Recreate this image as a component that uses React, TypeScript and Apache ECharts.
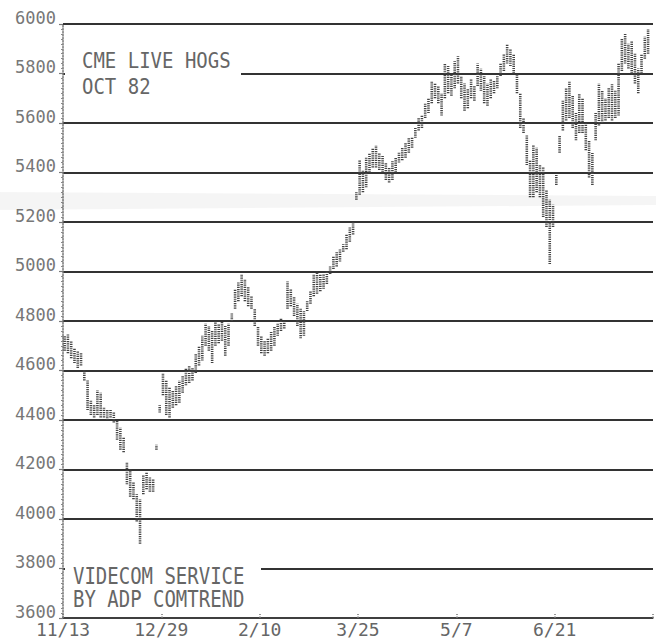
import React, { useEffect, useRef } from "react";
import * as echarts from "echarts";

const dateLabels = ["11/13", "12/29", "2/10", "3/25", "5/7", "6/21", ""];
const yTicks = [3600, 3800, 4000, 4200, 4400, 4600, 4800, 5000, 5200, 5400, 5600, 5800, 6000];
const titleLines = ["CME LIVE HOGS", "OCT 82"];
const footerLines = ["VIDECOM SERVICE", "BY ADP COMTREND"];

const highs = [
  4740, 4745, 4720, 4690, 4680, 4670, 4600, 4560, 4480, 4460,
  4520, 4510, 4450, 4440, 4440, 4430, 4400, 4370, 4330, 4230,
  4200, 4150, 4100, 4080, 4180, 4190, 4170, 4160, 4300, 4460,
  4590, 4560, 4530, 4520, 4540, 4560, 4580, 4610, 4620, 4610,
  4670, 4700, 4740, 4790, 4780, 4760, 4800, 4790, 4800, 4780,
  4790, 4830, 4930, 4960, 4990, 4970, 4940, 4900, 4850, 4780,
  4740, 4720, 4730, 4760, 4780, 4790, 4810, 4800, 4960, 4930,
  4900, 4870, 4850, 4840, 4880, 4920, 4990, 5000, 4990, 4990,
  5000, 5020, 5060, 5080, 5090, 5110, 5150, 5180, 5200, 5320,
  5450, 5410, 5460, 5480, 5500, 5510, 5480, 5470, 5440, 5420,
  5450, 5460, 5480, 5500, 5520, 5540, 5540, 5580, 5620, 5630,
  5680, 5700, 5770, 5760, 5750, 5720, 5840, 5830, 5800, 5850,
  5870, 5790, 5760, 5740, 5780, 5750, 5840, 5820, 5790, 5760,
  5780, 5770, 5790, 5840, 5880, 5920, 5900, 5880, 5800, 5720,
  5620, 5550, 5450, 5510, 5500, 5430, 5420, 5330, 5290, 5270,
  5390, 5550, 5690, 5740, 5770, 5710, 5640, 5720, 5700, 5600,
  5530, 5480, 5640, 5760, 5730, 5700, 5740, 5760, 5730, 5840,
  5940, 5960, 5920, 5930, 5880, 5820, 5880, 5950, 5980,
];
const lows = [
  4680, 4670, 4650, 4630, 4610, 4620, 4560, 4440, 4420, 4410,
  4420, 4410, 4410, 4400, 4410, 4390, 4320, 4280, 4270, 4140,
  4090, 4080, 3990, 3900, 4100, 4120, 4110, 4110, 4280, 4430,
  4500, 4420, 4410, 4450, 4460, 4470, 4510, 4540, 4550, 4560,
  4590, 4620, 4640, 4700, 4680, 4630, 4700, 4710, 4720, 4660,
  4700, 4800, 4850, 4880, 4900, 4880, 4860, 4850, 4780, 4700,
  4670, 4660, 4670, 4680, 4700, 4740, 4760, 4770, 4850, 4860,
  4820, 4780, 4730, 4740, 4840, 4870, 4900, 4910, 4920, 4930,
  4950, 4990, 5010, 5020, 5040, 5080, 5090, 5120, 5150, 5290,
  5310, 5320, 5340, 5400, 5420, 5420, 5410, 5400, 5370, 5360,
  5370, 5400, 5440, 5450, 5460, 5480, 5500, 5540, 5570, 5580,
  5620, 5640, 5680, 5700, 5680, 5630, 5700, 5720, 5710, 5740,
  5760, 5700, 5650, 5660, 5700, 5690, 5750, 5730, 5680, 5670,
  5700, 5720, 5740, 5790, 5810, 5840, 5830, 5800, 5720, 5580,
  5560, 5430, 5300, 5300, 5320, 5300, 5220, 5180, 5030, 5180,
  5350, 5480, 5570, 5610, 5620, 5580, 5530, 5560, 5560, 5490,
  5380, 5350, 5530, 5590, 5600, 5610, 5620, 5610, 5620, 5630,
  5810, 5840, 5820, 5800, 5760, 5720, 5800, 5860, 5880,
];

const MONO = "'DejaVu Sans Mono', 'Liberation Mono', monospace";

export default function App() {
  const ref = useRef<HTMLDivElement>(null);
  useEffect(() => {
    if (!ref.current) return;
    const chart = echarts.init(ref.current, undefined, { renderer: "svg" });
    const data = highs.map((h, i) => [i + 0.5, lows[i], h]);
    const option = {
      animation: false,
      backgroundColor: "#ffffff",
      grid: { left: 63, right: 0, top: 24, bottom: 23, containLabel: false },
      xAxis: {
        type: "value",
        min: 0,
        max: 180,
        interval: 30,
        axisLine: { show: true, lineStyle: { color: "#444", width: 1.5 } },
        axisTick: { show: true, inside: true, length: 4, lineStyle: { color: "#777", type: "dotted", width: 1.5 } },
        splitLine: { show: false },
        axisLabel: {
          margin: 3,
          fontFamily: MONO,
          fontSize: 18,
          lineHeight: 16,
          color: "#666",
          formatter: (v: number) => dateLabels[Math.round(v / 30)] ?? "",
        },
      },
      yAxis: {
        type: "value",
        min: yTicks[0],
        max: yTicks[yTicks.length - 1],
        interval: 200,
        axisLine: { show: true, lineStyle: { color: "#777", type: "dotted", width: 1.5 } },
        axisTick: { show: true, length: 4, lineStyle: { color: "#777", width: 1.2 } },
        minorTick: { show: true, splitNumber: 10, length: 2, lineStyle: { color: "#888", width: 1 } },
        splitLine: { show: true, lineStyle: { color: "#333", width: 2 } },
        axisLabel: {
          margin: 7,
          fontFamily: MONO,
          fontSize: 17,
          lineHeight: 13,
          color: "#777",
          verticalAlign: "bottom",
          formatter: (v: number) => String(v),
        },
      },
      series: [
        {
          type: "custom",
          data,
          encode: { x: 0, y: [1, 2] },
          clip: true,
          renderItem: (params: any, api: any) => {
            const x = api.value(0);
            const lo = api.coord([x, api.value(1)]);
            const hi = api.coord([x, api.value(2)]);
            return {
              type: "line",
              shape: { x1: lo[0], y1: lo[1], x2: hi[0], y2: hi[1] },
              style: { stroke: "#444", lineWidth: 2.6, lineDash: [1.2, 1] },
            };
          },
        },
      ],
      graphic: [
        {
          type: "polygon",
          z: 50,
          silent: true,
          shape: { points: [[0, 192], [656, 196], [656, 205], [0, 210]] },
          style: { fill: "rgba(0,0,0,0.04)" },
        },
        { type: "rect", z: 100, shape: { x: 65, y: 69, width: 176, height: 8 }, style: { fill: "#fff" } },
        { type: "rect", z: 100, shape: { x: 65, y: 565, width: 196, height: 8 }, style: { fill: "#fff" } },
        ...titleLines.map((t, i) => ({
          type: "text",
          z: 101,
          x: 82,
          y: 50 + i * 26,
          scaleY: 1.15,
          style: { text: t, font: `19px ${MONO}`, fill: "#666", textVerticalAlign: "top" },
        })),
        ...footerLines.map((t, i) => ({
          type: "text",
          z: 101,
          x: 73,
          y: 565 + i * 23,
          scaleY: 1.2,
          style: { text: t, font: `19px ${MONO}`, fill: "#666", textVerticalAlign: "top" },
        })),
      ],
    };
    chart.setOption(option as any);
    return () => chart.dispose();
  }, []);
  return <div ref={ref} style={{ width: 656, height: 641, position: "absolute", left: 0, top: 0 }} />;
}
